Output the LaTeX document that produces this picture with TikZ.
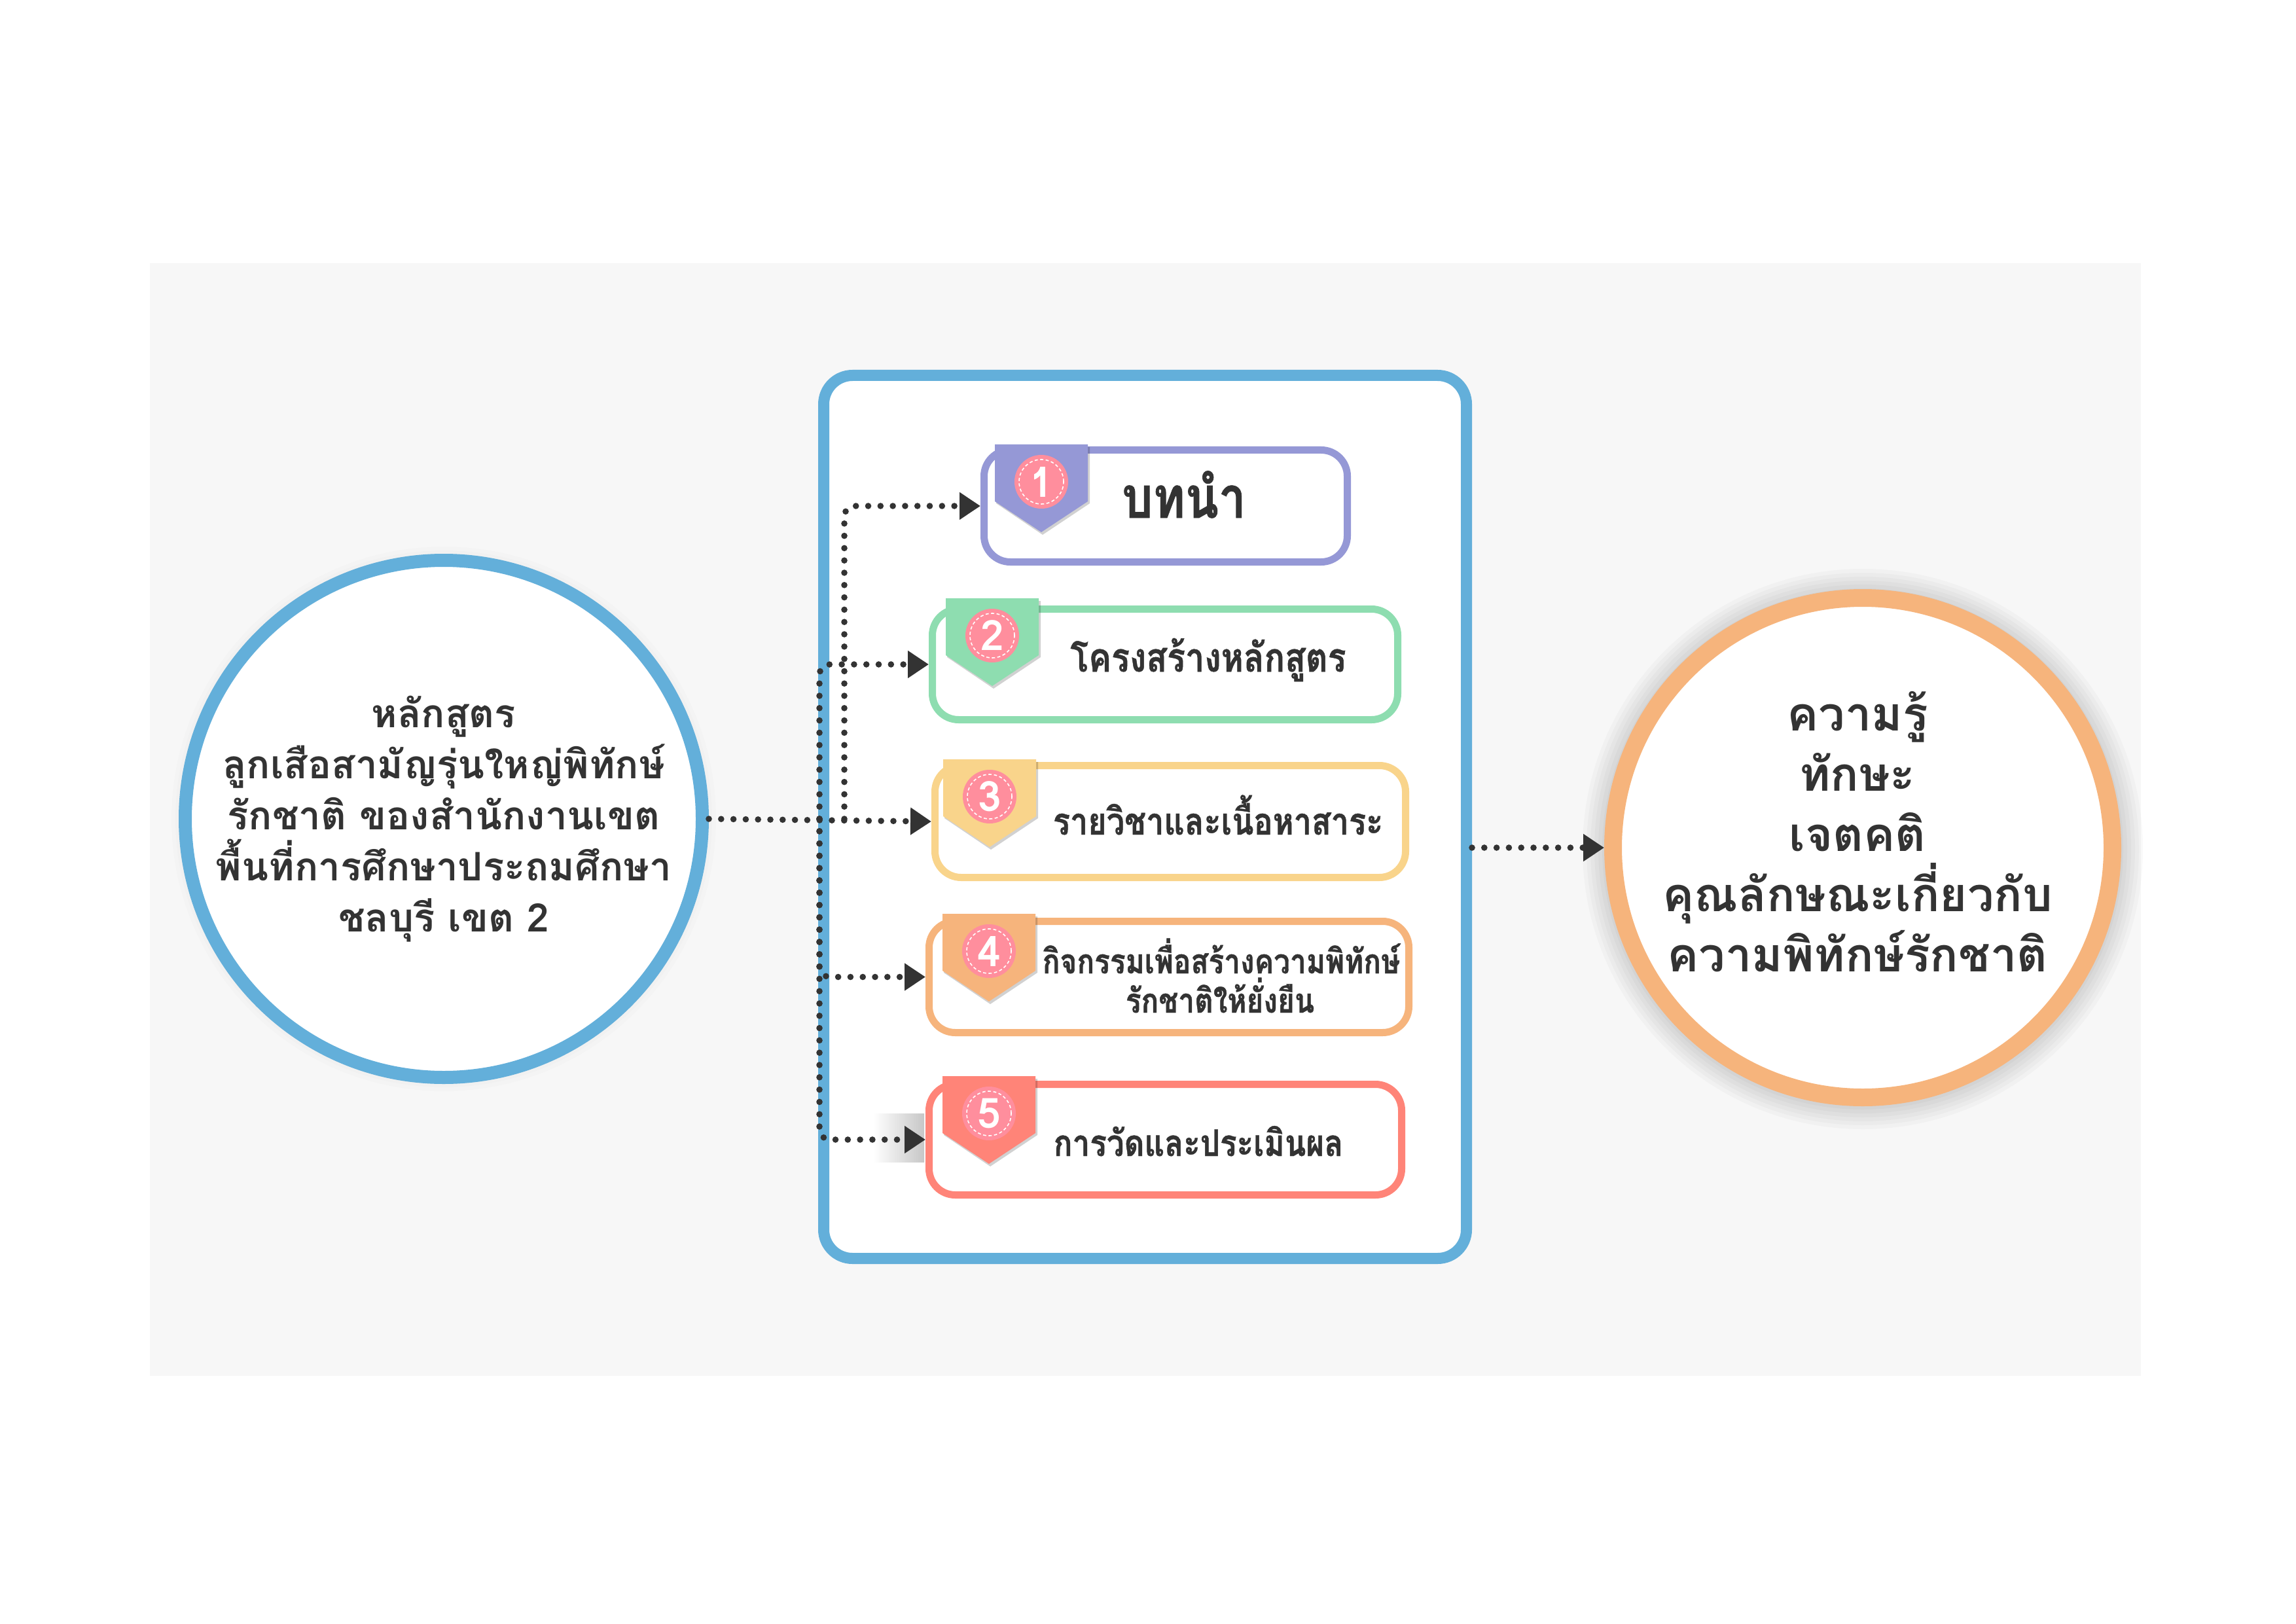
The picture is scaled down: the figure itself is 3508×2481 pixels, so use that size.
\documentclass[tikz,border=0pt]{standalone}
\usepackage{fontspec}
\newfontfamily\thai[Script=Thai]{Loma}
\newfontfamily\thaic[Script=Thai,FakeStretch=0.85,BoldFeatures={FakeBold=0.8}]{Loma}
\usetikzlibrary{arrows.meta,calc}
\definecolor{bgc}{HTML}{F7F7F7}
\definecolor{bluec}{HTML}{63AFDA}
\definecolor{purc}{HTML}{9598D6}
\definecolor{grnc}{HTML}{8EDDB0}
\definecolor{yelc}{HTML}{F9D48B}
\definecolor{orac}{HTML}{F6B47C}
\definecolor{redc}{HTML}{FF8478}
\definecolor{pinkc}{HTML}{FF8E9D}
\definecolor{darkc}{HTML}{333333}
\begin{document}
\begin{tikzpicture}[x=0.25pt,y=-0.25pt,
  stepbox/.style={draw=#1, line width=2.75pt, rounded corners=10pt, fill=white, inner sep=0pt},
  conn/.style={draw=darkc, line width=2.4pt, line cap=round, dash pattern=on 0pt off 4.7pt,
    -{Triangle[length=8pt,width=10pt]}, rounded corners=4pt},
  numc/.style={circle, fill=pinkc, minimum size=20.5pt, inner sep=0pt, text=white,
    font=\thai\bfseries\fontsize{16}{16}\selectfont},
  ring/.style={draw=white, line width=0.4pt, dash pattern=on 1.2pt off 0.9pt},
  boxtext/.style={anchor=base, text=darkc, inner sep=0pt, font=\thaic\bfseries\fontsize{14.5}{17}\selectfont},
]
\useasboundingbox (0,0) rectangle (3508,2481);
\fill[white] (0,0) rectangle (3508,2481);
\fill[bgc] (229,402) rectangle (3271,2102);

% glows
\foreach \r in {99.5,101,102.5,104} \fill[black,opacity=0.012] (678,1251) circle (\r pt);
\foreach \r in {99.5,101,102.5,104,105.5,107} \fill[black,opacity=0.025] (2846,1297) circle (\r pt);

% circles
\node[circle, draw=bluec, line width=5pt, fill=white, minimum size=197.5pt, inner sep=0pt,
  align=center, text=darkc, font=\thai\bfseries\fontsize{15}{19.5}\selectfont] (L) at (678,1251)
  {หลักสูตร\\ลูกเสือสามัญรุ่นใหญ่พิทักษ์\\รักชาติ ของสำนักงานเขต\\พื้นที่การศึกษาประถมศึกษา\\ชลบุรี เขต 2};
\node[circle, draw=orac, line width=6.75pt, fill=white, minimum size=190.75pt, inner sep=0pt] (R) at (2846,1295) {};
\node[align=center, text=darkc, inner sep=0pt, font=\thai\bfseries\fontsize{18}{23}\selectfont] (Rt) at ($(R.center)+(-8,-24)$)
  {ความรู้\\ทักษะ\\เจตคติ\\คุณลักษณะเกี่ยวกับ\\ความพิทักษ์รักชาติ};

% main container
\node[draw=bluec, line width=4.25pt, rounded corners=11pt, fill=white,
  minimum width=245.5pt, minimum height=337.25pt, inner sep=0pt] (main) at (1749.5,1248) {};

% shadow artifact near arrow 5
\shade[left color=white, right color=black!40, opacity=0.55] (1335,1701) rectangle (1412,1775);

% step boxes
\node[stepbox=purc, minimum width=138.75pt, minimum height=42.75pt] (b1) at (1781,773) {};
\node[stepbox=grnc, minimum width=177.75pt, minimum height=42.25pt] (b2) at (1780,1015) {};
\node[stepbox=yelc, minimum width=179.75pt, minimum height=42.75pt] (b3) at (1788,1255) {};
\node[stepbox=orac, minimum width=183.25pt, minimum height=42.5pt] (b4) at (1786,1492.5) {};
\node[stepbox=redc, minimum width=180.5pt, minimum height=42.25pt] (b5) at (1780.5,1741) {};

% ribbons
\newcommand\ribbon[4]{%
  \fill[black,opacity=0.18] ({#1-69},{#2+4}) -- ({#1+74},{#2+4}) -- ({#1+74},{#2+90}) -- ({#1+2},{#2+138}) -- ({#1-69},{#2+90}) -- cycle;
  \fill[#3] ({#1-71},#2) -- ({#1+71},#2) -- ({#1+71},{#2+87}) -- (#1,{#2+134}) -- ({#1-71},{#2+87}) -- cycle;
  \node[numc] (n#4) at (#1,{#2+57}) {#4};
  \draw[ring] (n#4.center) circle (8.5pt);
}
\ribbon{1591}{679}{purc}{1}
\ribbon{1516}{914}{grnc}{2}
\ribbon{1512}{1160}{yelc}{3}
\ribbon{1511}{1396}{orac}{4}
\ribbon{1511}{1644}{redc}{5}

% texts
\node[boxtext, font=\thaic\bfseries\fontsize{22}{26}\selectfont] (t1) at (1809,791) {บทนำ};
\node[boxtext, font=\thaic\bfseries\fontsize{15.3}{17}\selectfont] (t2) at (1846,1026) {โครงสร้างหลักสูตร};
\node[boxtext, font=\thaic\bfseries\fontsize{14.3}{17}\selectfont] (t3) at (1861,1275) {รายวิชาและเนื้อหาสาระ};
\node[boxtext, font=\thaic\bfseries\fontsize{13}{15}\selectfont] (t4a) at (1866,1487) {กิจกรรมเพื่อสร้างความพิทักษ์};
\node[boxtext, font=\thaic\bfseries\fontsize{13}{15}\selectfont] (t4b) at (1864,1547) {รักชาติให้ยั่งยืน};
\node[boxtext, font=\thaic\bfseries\fontsize{14}{17}\selectfont] (t5) at (1831,1766) {การวัดและประเมินผล};

% connectors
\coordinate (j1) at (1252,1251);
\coordinate (j2) at (1290,1251);
\draw[conn] (L.east) -- (b3.west);
\draw[conn] (j2) |- (b1.west);
\draw[conn] (j1) |- (b2.west);
\draw[conn] (j1) |- (b4.west);
\draw[conn] (j1) |- (b5.west);
\draw[conn] (main.east |- R.west) -- (R.west);
\end{tikzpicture}
\end{document}
